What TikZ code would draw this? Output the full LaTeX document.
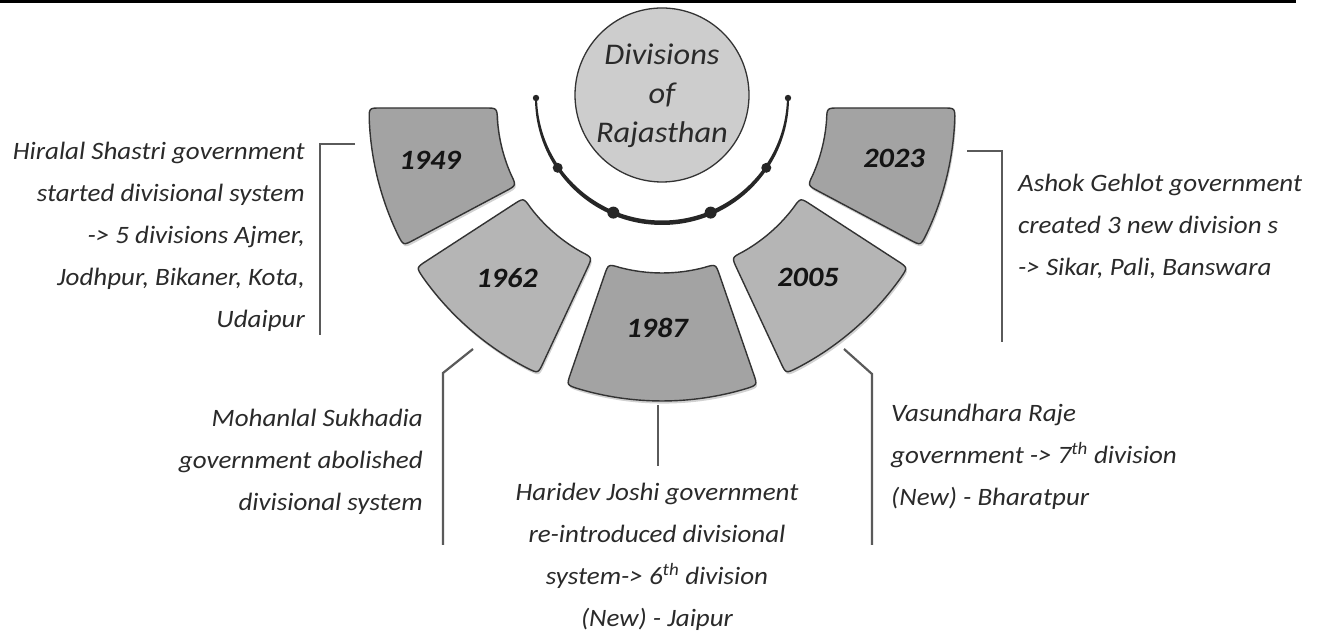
\documentclass[tikz,border=0pt]{standalone}
\usepackage{fontspec}
\setmainfont{Carlito}[FakeStretch=1.08]
\definecolor{segdark}{HTML}{A3A3A3}
\definecolor{seglight}{HTML}{B5B5B5}
\definecolor{circfill}{HTML}{CDCDCD}
\definecolor{edgecol}{HTML}{333333}
\definecolor{linkcol}{HTML}{5A5A5A}
\definecolor{textcol}{HTML}{2A2A2A}
\tikzset{
  segbase/.style={draw=edgecol, line width=1.4pt},
  segshadow/.style={fill=black!18},
  linkline/.style={draw=linkcol, line width=2.2pt},
  bodytext/.style={text=textcol, inner sep=0pt, font=\fontsize{25}{42}\selectfont\itshape},
  yeartext/.style={text=black!92, inner sep=0pt, font=\fontsize{28}{30}\selectfont\bfseries\itshape},
}
\def\Ri{165}\def\Ro{293}\def\rc{12}
\newcommand\fanpathbody{(\aA:\Ro) arc[start angle=\aA, end angle=\aB, radius=\Ro] .. controls (\aTwo:\Ro) .. (\aTwo:\rOm) -- (\aTwo:\rIp) .. controls (\aTwo:\Ri) .. (\aC:\Ri) arc[start angle=\aC, end angle=\aD, radius=\Ri] .. controls (\aOne:\Ri) .. (\aOne:\rIp) -- (\aOne:\rOm) .. controls (\aOne:\Ro) .. (\aA:\Ro) -- cycle}
\newcommand\fansector[3]{%
  \def\aOne{#1}\def\aTwo{#2}%
  \pgfmathsetmacro\aA{#1+\rc/\Ro*57.2958}%
  \pgfmathsetmacro\aB{#2-\rc/\Ro*57.2958}%
  \pgfmathsetmacro\aC{#2-\rc/\Ri*57.2958}%
  \pgfmathsetmacro\aD{#1+\rc/\Ri*57.2958}%
  \pgfmathsetmacro\rOm{\Ro-\rc}%
  \pgfmathsetmacro\rIp{\Ri+\rc}%
  \fill[segshadow, shift={(1.2,-2.6)}] \fanpathbody;
  \draw[segbase, fill=#3] \fanpathbody;}
\begin{document}
\begin{tikzpicture}[x=1pt, y=1pt]
\useasboundingbox (0,0) rectangle (1320,631);
\fill[white] (0,0) rectangle (1320,631);
% top rule
\fill[black] (0,628) rectangle (1296,631);

% fan segments
\begin{scope}[shift={(662,523)}]
  \fansector{180}{208}{segdark}
  \fansector{213}{245}{seglight}
  \fansector{251}{289}{segdark}
  \fansector{295}{327}{seglight}
  \fansector{332}{360}{segdark}
\end{scope}

% year labels
\node[yeartext] (y1949) at (430,471) {1949};
\node[yeartext] (y1962) at (507,353) {1962};
\node[yeartext] (y1987) at (657,303) {1987};
\node[yeartext] (y2005) at (808,354) {2005};
\node[yeartext] (y2023) at (894,473) {2023};

% centre circle
\node[circle, draw=edgecol, line width=1.3pt, fill=circfill, minimum size=174pt, inner sep=0pt] (hub) at (662,536) {};
\node[text=textcol, align=center, inner sep=0pt, font=\fontsize{30}{39}\selectfont\itshape] (title) at (662,535) {Divisions\\of\\Rajasthan};

% tapered arc with dots
\begin{scope}[shift={(662,533)}]
  \fill[black!85] (180:127) arc[start angle=180, end angle=360, radius=127] -- (125,2.5) arc[start angle=360, end angle=180, radius=125] -- cycle;
  \fill[black!85] (180:126) circle[radius=3.2];
  \fill[black!85] (0:126) circle[radius=3.2];
  \fill[black!85] (213.8:125.5) circle[radius=5];
  \fill[black!85] (326.2:125.5) circle[radius=5];
  \fill[black!85] (247:124.5) circle[radius=6];
  \fill[black!85] (293:124.5) circle[radius=6];
\end{scope}

% texts
\node[bodytext, align=right, anchor=north east] (t1949) at (305,489)
  {Hiralal Shastri government\\started divisional system\\-> 5 divisions Ajmer,\\Jodhpur, Bikaner, Kota,\\Udaipur};
\node[bodytext, align=right, anchor=north east] (t1962) at (423,222)
  {Mohanlal Sukhadia\\government abolished\\divisional system};
\node[bodytext, align=center, anchor=north] (t1987) at (657,148)
  {Haridev Joshi government\\re-introduced divisional\\system-> 6\textsuperscript{th} division\\(New) - Jaipur};
\node[bodytext, align=left, anchor=north west] (t2023) at (1018,457)
  {Ashok Gehlot government\\created 3 new division s\\-> Sikar, Pali, Banswara};
\node[bodytext, align=left, anchor=north west] (t2005) at (891,227)
  {Vasundhara Raje\\government -> 7\textsuperscript{th} division\\(New) - Bharatpur};

% connectors
\coordinate (c1a) at (355,487); \coordinate (c1b) at (320,487); \coordinate (c1c) at (320,296);
\coordinate (c2a) at (473,282); \coordinate (c2b) at (443,258); \coordinate (c2c) at (443,86);
\coordinate (c3a) at (658,226); \coordinate (c3b) at (658,165);
\coordinate (c4a) at (844,282); \coordinate (c4b) at (872,257); \coordinate (c4c) at (872,86);
\coordinate (c5a) at (967,480); \coordinate (c5b) at (1002,480); \coordinate (c5c) at (1002,289);
\draw[linkline] (c1a) -- (c1b) -- (c1c);
\draw[linkline] (c2a) -- (c2b) -- (c2c);
\draw[linkline] (c3a) -- (c3b);
\draw[linkline] (c4a) -- (c4b) -- (c4c);
\draw[linkline] (c5a) -- (c5b) -- (c5c);
\end{tikzpicture}
\end{document}
